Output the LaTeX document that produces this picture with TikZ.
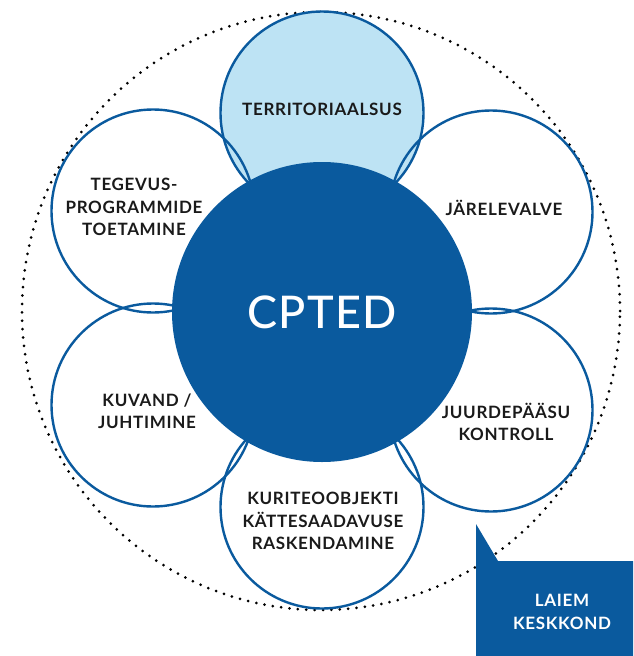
\documentclass[tikz,border=0pt]{standalone}
\usepackage{fontspec}
\setmainfont{Lato}
\newfontfamily\lblfont{Lato Bold}[LetterSpace=4]
\newfontfamily\corefont{Lato Medium}[LetterSpace=3]
\definecolor{dkblue}{HTML}{0A5A9E}
\definecolor{ltblue}{HTML}{BDE3F4}
\definecolor{txt}{HTML}{1A1A1A}
\begin{document}
\begin{tikzpicture}[x=1pt,y=-1pt,
  petal/.style={circle,draw=dkblue,line width=2.4pt,minimum size=203pt,inner sep=0pt,outer sep=0pt},
  lbl/.style={align=center,font=\lblfont\fontsize{17}{22.5}\selectfont,text=txt,inner sep=0pt},
  dotring/.style={draw=black,line width=3pt,line cap=round,dash pattern=on 0pt off 8.4pt},
  core/.style={circle,fill=dkblue,minimum size=300pt,inner sep=0pt,outer sep=0pt},
  callout/.style={fill=dkblue}]
\useasboundingbox (0,0) rectangle (633,656);
% outer dotted ring
\coordinate (ringc) at (321,311);
\draw[dotring] (ringc) circle[radius=299pt];
% light fill of top petal
\fill[ltblue] (322,113) circle[radius=101.5pt];
% petals
\node[petal] (pT)  at (322,113) {};
\node[petal] (pUR) at (491,212) {};
\node[petal] (pLR) at (491,410) {};
\node[petal] (pB)  at (322,507) {};
\node[petal] (pLL) at (153,405) {};
\node[petal] (pUL) at (153,211) {};
% core
\node[core] (core) at (322,312) {};
\node[text=white,font=\corefont\fontsize{45}{45}\selectfont,inner sep=0pt] (cpted) at (322,312) {CPTED};
% labels
\node[lbl] (tT)  at (322,109) {TERRITORIAALSUS};
\node[lbl] (tUR) at (504,208) {JÄRELEVALVE};
\node[lbl] (tLR) at (506,422) {JUURDEPÄÄSU\\KONTROLL};
\node[lbl] (tB)  at (323,521) {KURITEOOBJEKTI\\KÄTTESAADAVUSE\\RASKENDAMINE};
\node[lbl] (tLL) at (147,411) {KUVAND /\\JUHTIMINE};
\node[lbl] (tUL) at (134,207) {TEGEVUS-\\PROGRAMMIDE\\TOETAMINE};
% callout
\fill[callout] (476,524) -- (498,561) -- (633,561) -- (633,656) -- (476,656) -- cycle;
\node[lbl,text=white] (wide) at (562,612) {LAIEM\\KESKKOND};
\end{tikzpicture}
\end{document}
